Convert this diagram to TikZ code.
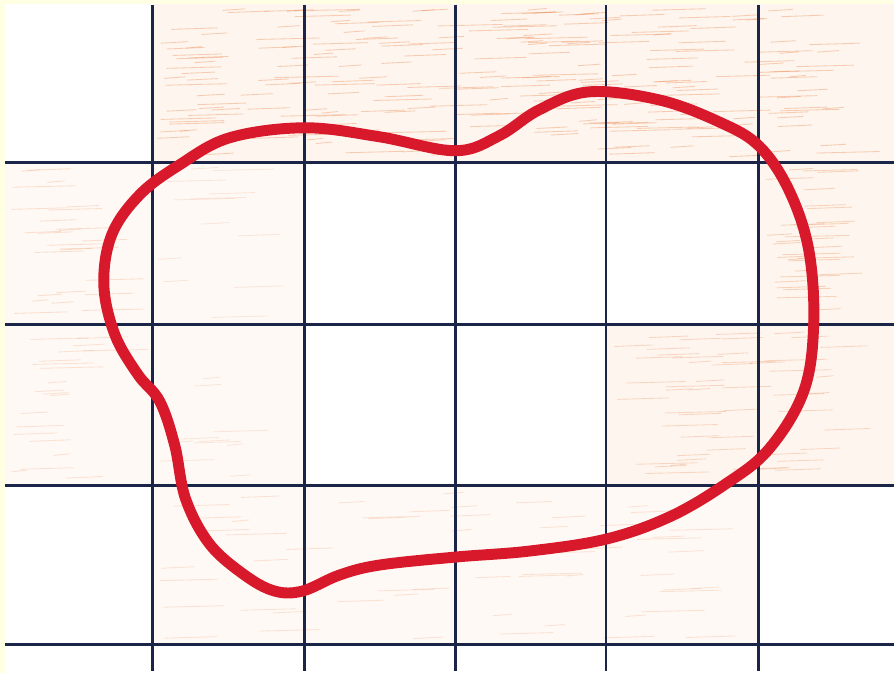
\documentclass[tikz,border=0pt]{standalone}
\usepackage{tikz}
\usetikzlibrary{calc}
\definecolor{paper}{HTML}{FFFFE3}
\definecolor{ink}{HTML}{1B2547}
\definecolor{marker}{HTML}{D7192B}
\definecolor{pencil}{HTML}{EC8E58}
\definecolor{pencilbg}{HTML}{FDF5EE}
\tikzset{
  grid line/.style={draw=ink, line width=2.1pt},
  outline/.style={draw=marker, line width=7.8pt, line join=round},
  hatched/.style={fill=pencilbg},
  faint/.style={fill=pencilbg!60},
  stroke/.style={pencil, line width=0.6pt, line cap=round}
}

\begin{document}
\begin{tikzpicture}[x=0.025cm, y=-0.025cm]
  % Sheet
  \fill[paper] (0,0) rectangle (895,674);
  \fill[white] (5,4) rectangle (895,674);

  % Shaded squares (boundary of the shape)
  \fill[hatched] (153,4) rectangle (895,163);
  \fill[faint] (5,163) rectangle (153,325);
  \fill[faint] (153,163) rectangle (305,325);
  \fill[hatched] (760,163) rectangle (895,325);
  \fill[faint] (5,325) rectangle (153,486);
  \fill[faint] (153,325) rectangle (305,486);
  \fill[hatched] (607,325) rectangle (895,486);
  \fill[faint] (153,486) rectangle (760,646);

  % Pencil strokes
  \pgfmathsetseed{11}
  \foreach \xa/\ya/\xb/\yb/\n/\op in {153/4/895/163/230/0.4, 5/163/153/325/25/0.25,
      153/163/305/325/12/0.18, 760/163/895/325/30/0.35, 5/325/153/486/20/0.22,
      153/325/305/486/10/0.18, 607/325/895/486/50/0.3, 153/486/760/646/60/0.22} {
    \foreach \k in {1,...,\n} {
      \pgfmathsetmacro{\sx}{\xa+4+rnd*(\xb-\xa-70)}
      \pgfmathsetmacro{\sy}{\ya+6+rnd*(\yb-\ya-12)}
      \pgfmathsetmacro{\sl}{15+rnd*50}
      \draw[stroke, opacity=\op] (\sx,\sy) -- ++(\sl,-1.5);
    }
  }

  % Grid
  \foreach \gx in {153,305,456,607,760}
    \draw[grid line] (\gx,5) -- (\gx,672);
  \foreach \gy in {163,325,486,646}
    \draw[grid line] (5,\gy) -- (895,\gy);

  % Shape outline
  \draw[outline] plot[smooth cycle, tension=0.6] coordinates {
    (180,165) (230,138) (305,128) (380,137) (456,151) (500,136)
    (540,110) (590,92) (660,100) (720,122) (760,146) (790,190)
    (810,250) (815,325) (805,392) (770,450) (725,486) (670,518)
    (607,540) (530,552) (456,558) (380,566) (340,576) (303,592)
    (275,592) (245,576) (210,545) (186,500) (175,446) (160,402)
    (138,375) (115,335) (104,285) (112,235) (140,195)};
\end{tikzpicture}
\end{document}
